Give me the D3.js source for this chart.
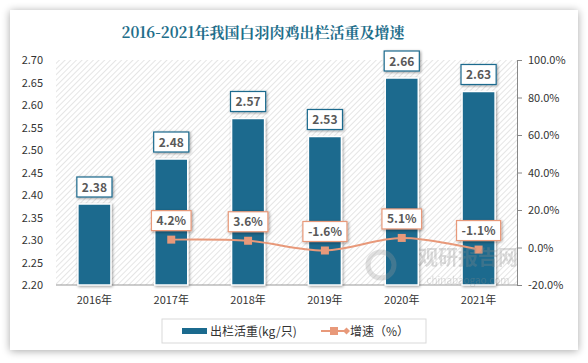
<!DOCTYPE html>
<html>
<head>
<meta charset="utf-8">
<script src="https://cdn.jsdelivr.net/npm/d3@7"></script>
<style>
  body { margin: 0; background: #ffffff; }
  text { font-family: "Noto Sans CJK SC", "DejaVu Sans", sans-serif; }
</style>
</head>
<body>
<div id="chart"></div>
<script>
var years = ['2016年', '2017年', '2018年', '2019年', '2020年', '2021年'];
var weights = [2.38, 2.48, 2.57, 2.53, 2.66, 2.63];
var growth = [null, 4.2, 3.6, -1.6, 5.1, -1.1];
var leftTicks = [2.20, 2.25, 2.30, 2.35, 2.40, 2.45, 2.50, 2.55, 2.60, 2.65, 2.70];
var rightTicks = [-20, 0, 20, 40, 60, 80, 100];

var width = 588, height = 363;
var blue = '#1b6a8e', orange = '#e8997a';
var plot = {left: 56, right: 517, top: 60, bottom: 285};

var svg = d3.select('#chart').append('svg')
    .attr('width', width)
    .attr('height', height);

var defs = svg.append('defs');

// card shadow
var sh = defs.append('filter').attr('id', 'cardShadow')
    .attr('x', '-5%').attr('y', '-5%').attr('width', '110%').attr('height', '110%');
sh.append('feGaussianBlur').attr('in', 'SourceAlpha').attr('stdDeviation', 4);
sh.append('feOffset').attr('dx', 0).attr('dy', 1).attr('result', 'b');
sh.append('feComponentTransfer').append('feFuncA').attr('type', 'linear').attr('slope', 0.35);
var m = sh.append('feMerge');
m.append('feMergeNode');
m.append('feMergeNode').attr('in', 'SourceGraphic');

// small shadow for bars / labels
var bs = defs.append('filter').attr('id', 'barShadow')
    .attr('x', '-30%').attr('y', '-30%').attr('width', '160%').attr('height', '160%');
bs.append('feGaussianBlur').attr('in', 'SourceAlpha').attr('stdDeviation', 1.5);
bs.append('feOffset').attr('dx', 1).attr('dy', 1).attr('result', 'b');
bs.append('feComponentTransfer').append('feFuncA').attr('type', 'linear').attr('slope', 0.4);
var m2 = bs.append('feMerge');
m2.append('feMergeNode');
m2.append('feMergeNode').attr('in', 'SourceGraphic');

// diagonal hatch for plot area
var pat = defs.append('pattern').attr('id', 'hatch')
    .attr('patternUnits', 'userSpaceOnUse')
    .attr('width', 4).attr('height', 4)
    .attr('patternTransform', 'rotate(45)');
pat.append('rect').attr('width', 4).attr('height', 4).attr('fill', '#ffffff');
pat.append('line').attr('x1', 0).attr('y1', 0).attr('x2', 0).attr('y2', 4)
    .attr('stroke', '#d4d4d4').attr('stroke-width', 1.2);

svg.append('rect')
    .attr('x', 10).attr('y', 10)
    .attr('width', 568).attr('height', 340)
    .attr('fill', '#ffffff')
    .attr('filter', 'url(#cardShadow)');

svg.append('text')
    .attr('x', 263).attr('y', 38)
    .attr('text-anchor', 'middle')
    .style('font-size', '15px')
    .style('font-weight', 'bold')
    .style('fill', '#1f6f8b')
    .style('font-family', '"Noto Serif CJK SC", "DejaVu Serif", "Noto Sans CJK SC", serif')
    .text('2016-2021年我国白羽肉鸡出栏活重及增速');

svg.append('rect')
    .attr('x', plot.left).attr('y', plot.top)
    .attr('width', plot.right - plot.left).attr('height', plot.bottom - plot.top)
    .attr('fill', 'url(#hatch)');

var x = d3.scaleBand().domain(years).range([plot.left, plot.right]).paddingInner(0.57).paddingOuter(0.285);
var y = d3.scaleLinear().domain([2.2, 2.7]).range([plot.bottom, plot.top]);
var y2 = d3.scaleLinear().domain([-20, 100]).range([plot.bottom, plot.top]);

// left axis labels
svg.append('g').selectAll('text')
    .data(leftTicks)
    .enter().append('text')
    .attr('x', 43)
    .attr('y', function(d) { return y(d) + 4; })
    .attr('text-anchor', 'end')
    .style('font-size', '11px')
    .style('fill', '#333')
    .text(function(d) { return d.toFixed(2); });

// right axis
var rightAxis = svg.append('g')
    .attr('transform', 'translate(' + plot.right + ',0)')
    .call(d3.axisRight(y2).tickValues(rightTicks).tickSize(5).tickPadding(6)
        .tickFormat(function(d) { return d.toFixed(1) + '%'; }));
rightAxis.select('.domain').attr('stroke', '#888');
rightAxis.selectAll('.tick line').attr('stroke', '#888');
rightAxis.selectAll('.tick text')
    .style('font-size', '11px')
    .style('fill', '#333')
    .style('font-family', '"Noto Sans CJK SC", "DejaVu Sans", sans-serif');

// bottom axis
svg.append('line')
    .attr('x1', plot.left).attr('x2', plot.right)
    .attr('y1', plot.bottom).attr('y2', plot.bottom)
    .attr('stroke', '#999');
svg.append('g').selectAll('text')
    .data(years)
    .enter().append('text')
    .attr('x', function(d) { return x(d) + x.bandwidth() / 2; })
    .attr('y', 304)
    .attr('text-anchor', 'middle')
    .style('font-size', '11px')
    .style('fill', '#333')
    .text(function(d) { return d; });

// bars
svg.append('g').selectAll('rect')
    .data(weights)
    .enter().append('rect')
    .attr('x', function(d, i) { return x(years[i]); })
    .attr('y', function(d) { return y(d); })
    .attr('width', x.bandwidth())
    .attr('height', function(d) { return plot.bottom - y(d); })
    .attr('fill', blue)
    .attr('stroke', '#ffffff')
    .attr('stroke-width', 1.5)
    .attr('filter', 'url(#barShadow)');

// growth line
var pts = growth.map(function(d, i) { return {i: i, v: d}; }).filter(function(d) { return d.v !== null; });
var line = d3.line()
    .x(function(d) { return x(years[d.i]) + x.bandwidth() / 2; })
    .y(function(d) { return y2(d.v); })
    .curve(d3.curveCatmullRom.alpha(0.5));
svg.append('path')
    .datum(pts)
    .attr('d', line)
    .attr('fill', 'none')
    .attr('stroke', orange)
    .attr('stroke-width', 2);
svg.append('g').selectAll('rect')
    .data(pts)
    .enter().append('rect')
    .attr('x', function(d) { return x(years[d.i]) + x.bandwidth() / 2 - 4; })
    .attr('y', function(d) { return y2(d.v) - 4; })
    .attr('width', 8).attr('height', 8)
    .attr('fill', orange);

// watermark, drawn over the bars
var wm = svg.append('g').attr('opacity', 0.3);
wm.append('circle').attr('cx', 381).attr('cy', 265).attr('r', 13)
    .attr('fill', 'none').attr('stroke', '#9a9a9a').attr('stroke-width', 5);
wm.append('text').attr('x', 468).attr('y', 265)
    .attr('text-anchor', 'middle')
    .style('font-size', '20px').style('font-weight', 'bold').style('fill', '#8a8a8a')
    .text('观研报告网');
wm.append('text').attr('x', 468).attr('y', 284)
    .attr('text-anchor', 'middle')
    .style('font-size', '10px').style('fill', '#8a8a8a')
    .text('chinabaogao.com');

// data label helper
function label(g, cx, bottom, txt, color) {
    var h = 20;
    var t = g.append('text')
        .attr('x', cx).attr('y', bottom - 5.5)
        .attr('text-anchor', 'middle')
        .style('font-size', '12px')
        .style('font-weight', 'bold')
        .style('fill', '#595959')
        .text(txt);
    var w = t.node().getComputedTextLength() + 10;
    g.insert('rect', function() { return t.node(); })
        .attr('x', cx - w / 2).attr('y', bottom - h)
        .attr('width', w).attr('height', h)
        .attr('fill', '#fff')
        .attr('stroke', color)
        .attr('stroke-width', 1.2)
        .attr('filter', 'url(#barShadow)');
}

weights.forEach(function(d, i) {
    label(svg.append('g'), x(years[i]) + x.bandwidth() / 2, y(d) - 7, d.toFixed(2), blue);
});
pts.forEach(function(d) {
    label(svg.append('g'), x(years[d.i]) + x.bandwidth() / 2, y2(d.v) - 9, d.v.toFixed(1) + '%', orange);
});

// legend
var lg = svg.append('g');
lg.append('rect')
    .attr('x', 162).attr('y', 319)
    .attr('width', 264).attr('height', 24)
    .attr('fill', '#fff')
    .attr('stroke', '#d9d9d9');
lg.append('rect')
    .attr('x', 182).attr('y', 328)
    .attr('width', 25).attr('height', 6)
    .attr('fill', blue);
lg.append('text')
    .attr('x', 210).attr('y', 335.5)
    .style('font-size', '12px').style('fill', '#333')
    .text('出栏活重(kg/只)');
lg.append('line')
    .attr('x1', 321).attr('x2', 347)
    .attr('y1', 331).attr('y2', 331)
    .attr('stroke', orange).attr('stroke-width', 2);
lg.append('rect')
    .attr('x', 330).attr('y', 327)
    .attr('width', 8).attr('height', 8)
    .attr('fill', orange);
lg.append('path')
    .attr('d', 'M343,331 L346.5,327.5 L350,331 L346.5,334.5 Z')
    .attr('fill', orange);
lg.append('text')
    .attr('x', 350).attr('y', 335.5)
    .style('font-size', '12px').style('fill', '#333')
    .text('增速（%）');
</script>
</body>
</html>
